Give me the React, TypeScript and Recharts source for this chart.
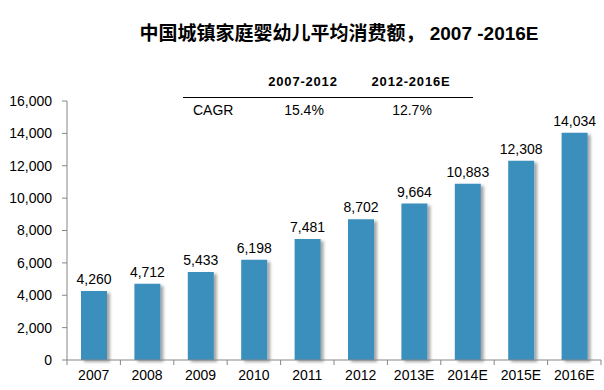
import React from 'react';
import { BarChart, Bar, XAxis, YAxis, LabelList } from 'recharts';

const years = ['2007', '2008', '2009', '2010', '2011', '2012', '2013E', '2014E', '2015E', '2016E'];
const spending = [4260, 4712, 5433, 6198, 7481, 8702, 9664, 10883, 12308, 14034];
const yTicks = [0, 2000, 4000, 6000, 8000, 10000, 12000, 14000, 16000];

const cagrHeaders = ['2007-2012', '2012-2016E'];
const cagrValues = ['15.4%', '12.7%'];

const chartData = years.map((year, i) => ({ year, value: spending[i] }));

const font = '"Liberation Sans", Arial, "Noto Sans CJK SC", sans-serif';
const axisColor = '#868686';
const barColor = '#3a8fbd';

// x ticks in the original sit on the category boundaries, not the centres
const XTick = (props: any) => {
  const { x, y, payload, index } = props;
  const half = 534 / years.length / 2;
  return (
    <g>
      <line x1={x - half} y1={y - 8} x2={x - half} y2={y - 3} stroke={axisColor} />
      {index === years.length - 1 && (
        <line x1={x + half} y1={y - 8} x2={x + half} y2={y - 3} stroke={axisColor} />
      )}
      <text x={x} y={y + 12} textAnchor="middle" fontSize={14} fill="#000" fontFamily={font}>
        {payload.value}
      </text>
    </g>
  );
};

export default function App() {
  return (
    <div style={{ position: 'fixed', left: 0, top: 0, width: 604, height: 390, background: '#fff', fontFamily: font }}>
      <svg width={0} height={0} style={{ position: 'absolute' }}>
        <defs>
          <filter id="barShadow" x="-20%" y="-10%" width="150%" height="130%">
            <feDropShadow dx={3} dy={2} stdDeviation={1.5} floodColor="#000" floodOpacity={0.35} />
          </filter>
        </defs>
      </svg>

      <div
        style={{
          position: 'absolute',
          left: 0,
          width: 604,
          top: 18,
          textAlign: 'center',
          fontSize: 19,
          fontWeight: 'bold',
          paddingLeft: 74,
          boxSizing: 'border-box',
          whiteSpace: 'nowrap',
        }}
      >
        中国城镇家庭婴幼儿平均消费额， 2007 -2016E
      </div>

      <BarChart
        width={604}
        height={390}
        data={chartData}
        margin={{ top: 101, right: 3, bottom: 0, left: 0 }}
        barCategoryGap="25%"
      >
        <XAxis
          dataKey="year"
          height={30}
          stroke={axisColor}
          tickLine={false}
          interval={0}
          tick={<XTick />}
        />
        <YAxis
          width={67}
          domain={[0, 16000]}
          ticks={yTicks}
          interval={0}
          stroke={axisColor}
          tickSize={5}
          tickMargin={10}
          tick={{ fontSize: 14, fill: '#000', fontFamily: font }}
          tickFormatter={(v: number) => v.toLocaleString('en-US')}
        />
        <Bar dataKey="value" fill={barColor} barSize={26} isAnimationActive={false} style={{ filter: 'url(#barShadow)' }}>
          <LabelList
            dataKey="value"
            position="top"
            offset={7}
            formatter={(v: any) => Number(v).toLocaleString('en-US')}
            style={{ fontSize: 14, fill: '#000', fontFamily: font, filter: 'none' }}
          />
        </Bar>
      </BarChart>

      {/* CAGR table */}
      <div style={{ position: 'absolute', left: 183, top: 97, width: 290, borderTop: '1px solid #000' }} />
      {cagrHeaders.map((h, i) => (
        <div
          key={h}
          style={{
            position: 'absolute',
            left: [303, 411][i] - 60,
            width: 120,
            top: 74,
            textAlign: 'center',
            fontSize: 13,
            fontWeight: 'bold',
            letterSpacing: 0.8,
          }}
        >
          {h}
        </div>
      ))}
      <div style={{ position: 'absolute', left: 193, top: 102, fontSize: 14 }}>CAGR</div>
      {cagrValues.map((v, i) => (
        <div
          key={v}
          style={{
            position: 'absolute',
            left: [304, 412][i] - 50,
            width: 100,
            top: 102,
            textAlign: 'center',
            fontSize: 14,
          }}
        >
          {v}
        </div>
      ))}
    </div>
  );
}
